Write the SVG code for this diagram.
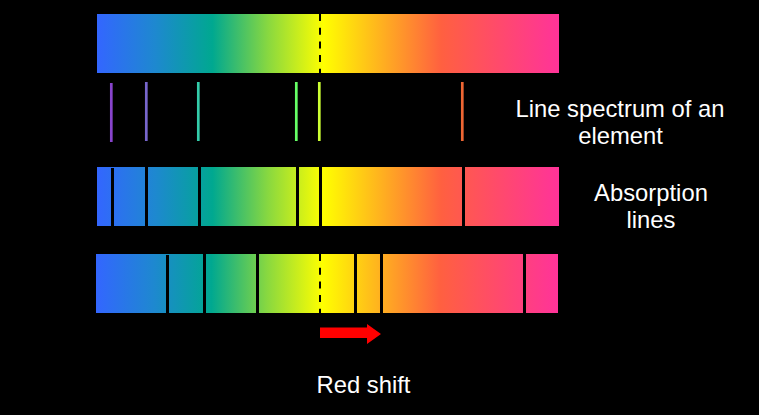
<svg xmlns="http://www.w3.org/2000/svg" width="759" height="415" viewBox="0 0 759 415">
<defs>
<linearGradient id="spec" x1="0" y1="0" x2="1" y2="0">
<stop offset="0" stop-color="#3366FF"/>
<stop offset="0.125" stop-color="#1E88D0"/>
<stop offset="0.25" stop-color="#00A890"/>
<stop offset="0.37" stop-color="#88D840"/>
<stop offset="0.49" stop-color="#FFFF00"/>
<stop offset="0.745" stop-color="#FF6040"/>
<stop offset="1" stop-color="#FF3399"/>
</linearGradient>
<style>
.bar{fill:url(#spec)}
.abs{fill:#000}
.dash{stroke:#000;stroke-width:2;stroke-dasharray:7 6.7;fill:none}
.em{stroke-width:2.7;fill:none}
.lbl{font-family:"Liberation Sans",Arial,sans-serif;font-size:23.8px;fill:#fff;text-anchor:middle}
</style>
</defs>
<rect width="759" height="415" fill="#000"/>
<g id="continuous-spectrum">
<rect class="bar" x="97" y="14" width="462" height="59"/>
<line class="dash" x1="320" y1="14" x2="320" y2="73"/>
</g>
<g id="line-spectrum">
<line class="em" x1="111.3" y1="83" x2="111.3" y2="142" stroke="#8844CC"/>
<line class="em" x1="146.3" y1="82" x2="146.3" y2="141" stroke="#7766CC"/>
<line class="em" x1="198.3" y1="82" x2="198.3" y2="141" stroke="#33CCAA"/>
<line class="em" x1="296.3" y1="82" x2="296.3" y2="141" stroke="#66FF66"/>
<line class="em" x1="319.3" y1="82" x2="319.3" y2="141" stroke="#CCFF33"/>
<line class="em" x1="462.3" y1="82" x2="462.3" y2="141" stroke="#EE6633"/>
</g>
<g id="label-line-spectrum">
<text class="lbl" x="620" y="117.3">Line spectrum of an</text>
<text class="lbl" x="620.5" y="144">element</text>
</g>
<g id="absorption-spectrum">
<rect class="bar" x="97" y="167" width="462" height="59"/>
<rect class="abs" x="111" y="168" width="3" height="58"/>
<rect class="abs" x="145" y="167" width="3" height="59"/>
<rect class="abs" x="198" y="167" width="3" height="59"/>
<rect class="abs" x="296" y="167" width="3" height="59"/>
<rect class="abs" x="319" y="167" width="3" height="59"/>
<rect class="abs" x="462" y="167" width="3" height="59"/>
</g>
<g id="label-absorption">
<text class="lbl" x="651" y="200.7">Absorption</text>
<text class="lbl" x="651" y="228.3">lines</text>
</g>
<g id="redshifted-spectrum">
<rect class="bar" x="96" y="254" width="462" height="59"/>
<rect class="abs" x="166" y="255" width="3" height="58"/>
<rect class="abs" x="203" y="254" width="3" height="59"/>
<rect class="abs" x="256" y="254" width="3" height="59"/>
<rect class="abs" x="354" y="254" width="3" height="59"/>
<rect class="abs" x="380" y="254" width="3" height="59"/>
<rect class="abs" x="523" y="254" width="3" height="59"/>
<line class="dash" x1="320" y1="254" x2="320" y2="313"/>
</g>
<g id="connectors">
<polygon id="red-shift-arrow" points="320,327.5 367,327.5 367,324 381,334 367,344 367,338 320,338" fill="#FF0000"/>
</g>
<g id="label-red-shift">
<text class="lbl" x="363.5" y="393.3">Red shift</text>
</g>
</svg>
